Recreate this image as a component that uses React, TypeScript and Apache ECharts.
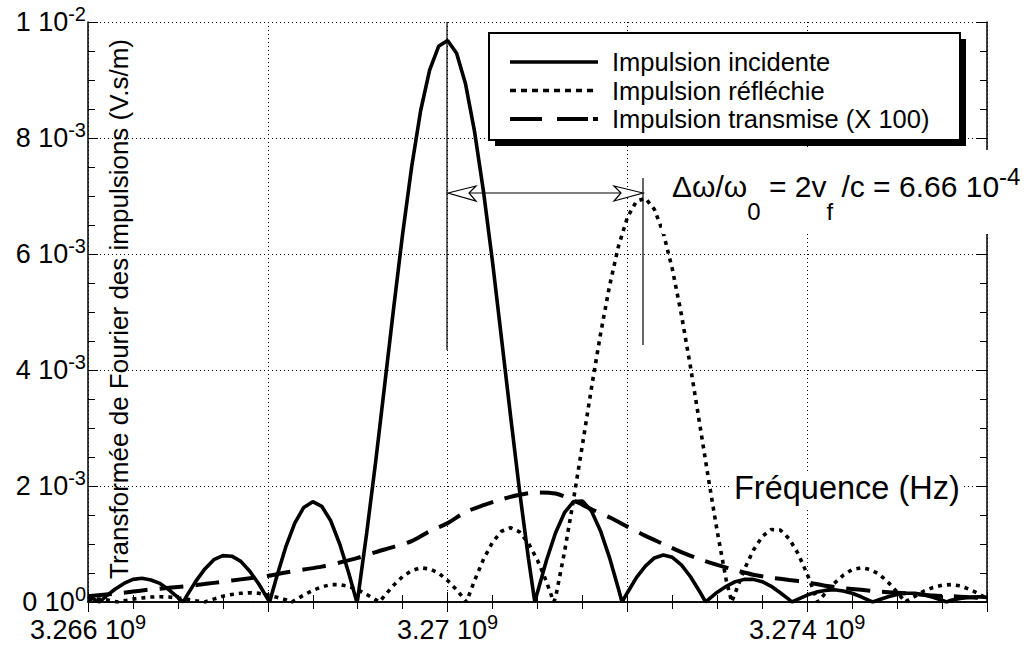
import React, { useEffect, useRef } from "react";
import * as echarts from "echarts";

// ---------------- Data (values in units of 1e-3 V.s/m) ----------------
const FREQ_START_HZ = 3.266e9;
const FREQ_END_HZ = 3.276e9;
const SAMPLE_STEP_HZ = 1e5; // sampling step of the incident / reflected curves
const DASHED_STEP_HZ = 2e5; // sampling step of the transmitted curve
const X_TICK_STEP_HZ = 2e6;

const incidentMilli = [
  0.1, 0.02, 0.1, 0.22, 0.32, 0.39, 0.41, 0.38, 0.32, 0.21, 0.08,
  0.11, 0.36, 0.57, 0.73, 0.8, 0.79, 0.7, 0.53, 0.31, 0.05,
  0.44, 0.95, 1.36, 1.63, 1.73, 1.65, 1.4, 1.0, 0.5, 0.05,
  1.19, 2.42, 3.74, 5.07, 6.35, 7.5, 8.47, 9.17, 9.58, 9.68,
  9.46, 8.93, 8.11, 7.07, 5.86, 4.54, 3.21, 1.92, 0.74, 0.17,
  0.72, 1.19, 1.54, 1.73, 1.74, 1.57, 1.23, 0.77, 0.23, 0.16,
  0.42, 0.62, 0.76, 0.81, 0.77, 0.64, 0.44, 0.19, 0.04, 0.17,
  0.27, 0.35, 0.39, 0.39, 0.35, 0.27, 0.16, 0.04, 0.05, 0.12,
  0.17, 0.2, 0.21, 0.19, 0.15, 0.09, 0.02, 0.04, 0.09, 0.13,
  0.15, 0.15, 0.12, 0.08, 0.03, 0.03, 0.06, 0.08, 0.09, 0.08,
];
const incidentZerosHz = [
  3.26613e9, 3.26706e9, 3.26802e9, 3.26899e9, 3.27097e9,
  3.27194e9, 3.27287e9, 3.27383e9, 3.27473e9, 3.27555e9,
];

const reflectedMilli = [
  0.04, 0.05, 0.04, 0.01, 0.02, 0.05, 0.07, 0.085, 0.09, 0.085, 0.07,
  0.05, 0.02, 0.0, 0.05, 0.1, 0.13, 0.15, 0.16, 0.15, 0.12,
  0.08, 0.04, 0.03, 0.12, 0.2, 0.26, 0.3, 0.3, 0.27, 0.21,
  0.13, 0.04, 0.11, 0.29, 0.44, 0.54, 0.59, 0.57, 0.5, 0.37,
  0.21, 0.02, 0.37, 0.74, 1.03, 1.22, 1.28, 1.21, 1.01, 0.72,
  0.35, 0.07, 0.86, 1.76, 2.71, 3.69, 4.61, 5.44, 6.13, 6.63,
  6.91, 6.96, 6.77, 6.36, 5.74, 4.96, 4.07, 3.11, 2.14, 1.21,
  0.37, 0.16, 0.56, 0.89, 1.13, 1.25, 1.24, 1.09, 0.83, 0.48,
  0.08, 0.15, 0.32, 0.46, 0.56, 0.59, 0.56, 0.48, 0.34, 0.17,
  0.01, 0.1, 0.19, 0.25, 0.29, 0.3, 0.28, 0.22, 0.15, 0.06,
];
const reflectedZerosHz = [
  3.26633e9, 3.2673e9, 3.26827e9, 3.26924e9, 3.27021e9,
  3.27118e9, 3.27316e9, 3.27412e9, 3.27509e9,
];

const transmittedX100Milli = [
  0.1, 0.13, 0.16, 0.2, 0.23, 0.26, 0.29, 0.33, 0.37, 0.41,
  0.45, 0.51, 0.56, 0.61, 0.68, 0.76, 0.86, 0.95, 1.05, 1.22,
  1.36, 1.55, 1.67, 1.77, 1.85, 1.89, 1.87, 1.75, 1.6, 1.46,
  1.3, 1.14, 1.0, 0.86, 0.74, 0.64, 0.55, 0.47, 0.42, 0.38,
  0.34, 0.28, 0.24, 0.21, 0.18, 0.16, 0.14, 0.11, 0.1, 0.08, 0.07,
];

const X_TICK_LABELS = ["3.266", "", "3.27", "", "3.274", ""];
const X_TICK_EXP = "9";
const Y_TICK_MANT = ["0", "2", "4", "6", "8", "1"];
const Y_TICK_EXP = ["0", "-3", "-3", "-3", "-3", "-2"];
const Y_MAX = 0.01;
const Y_STEP = 0.002;

const LEGEND_NAMES = [
  "Impulsion incidente",
  "Impulsion réfléchie",
  "Impulsion transmise (X 100)",
];
const Y_TITLE = "Transformée de Fourier des impulsions (V.s/m)";
const X_TITLE = "Fréquence (Hz)";

const FONT = '"Liberation Sans", Arial, Helvetica, sans-serif';

function buildPoints(vals: number[], step: number, zeros: number[]) {
  const pts: number[][] = vals.map((v, i) => [FREQ_START_HZ + i * step, v * 1e-3]);
  zeros.forEach((z) => pts.push([z, 0]));
  pts.sort((a, b) => a[0] - b[0]);
  return pts;
}

const tickRich = {
  m: { fontSize: 27, lineHeight: 36, fontFamily: FONT, color: "#000" },
  s: { fontSize: 20, lineHeight: 20, fontFamily: FONT, color: "#000", verticalAlign: "top" },
};

export default function App() {
  const ref = useRef<HTMLDivElement>(null);

  useEffect(() => {
    if (!ref.current) return;
    const chart = echarts.init(ref.current, null, { renderer: "svg" });

    const axisLine = { show: true, lineStyle: { color: "#000", width: 1.5 } };
    const axisTick = { show: true, inside: true, length: 10, lineStyle: { color: "#000", width: 1 } };
    const minorTick = { show: true, splitNumber: 4, length: 7, lineStyle: { color: "#000", width: 1 } };
    const gridLine = { show: true, lineStyle: { color: "#000", width: 1, type: [1, 3] } };

    const txt = (extra: any) => ({ fill: "#000", fontFamily: FONT, ...extra });

    const option: any = {
      animation: false,
      backgroundColor: "#fff",
      grid: { left: 88, right: 41, top: 22, bottom: 45, containLabel: false },
      xAxis: [
        {
          type: "value",
          position: "bottom",
          min: FREQ_START_HZ,
          max: FREQ_END_HZ,
          interval: X_TICK_STEP_HZ,
          axisLine,
          axisTick,
          minorTick,
          splitLine: gridLine,
          axisLabel: {
            margin: 10,
            formatter: (v: number) => {
              const idx = Math.round((v - FREQ_START_HZ) / X_TICK_STEP_HZ);
              const m = X_TICK_LABELS[idx];
              return m ? `{m|${m} 10}{s|${X_TICK_EXP}}` : "";
            },
            rich: tickRich,
          },
        },
        {
          type: "value",
          position: "top",
          min: FREQ_START_HZ,
          max: FREQ_END_HZ,
          interval: X_TICK_STEP_HZ,
          axisLine,
          axisTick,
          minorTick,
          splitLine: { show: false },
          axisLabel: { show: false },
        },
      ],
      yAxis: [
        {
          type: "value",
          position: "left",
          min: 0,
          max: Y_MAX,
          interval: Y_STEP,
          axisLine,
          axisTick,
          minorTick,
          splitLine: gridLine,
          axisLabel: {
            margin: 2,
            formatter: (v: number) => {
              const idx = Math.round(v / Y_STEP);
              return `{m|${Y_TICK_MANT[idx]} 10}{s|${Y_TICK_EXP[idx]}}`;
            },
            rich: tickRich,
          },
        },
        {
          type: "value",
          position: "right",
          min: 0,
          max: Y_MAX,
          interval: Y_STEP,
          axisLine,
          axisTick,
          minorTick,
          splitLine: { show: false },
          axisLabel: { show: false },
        },
      ],
      series: [
        {
          name: LEGEND_NAMES[0],
          type: "line",
          data: buildPoints(incidentMilli, SAMPLE_STEP_HZ, incidentZerosHz),
          symbol: "none",
          silent: true,
          lineStyle: { color: "#000", width: 3.6, type: "solid" },
          z: 5,
        },
        {
          name: LEGEND_NAMES[1],
          type: "line",
          data: buildPoints(reflectedMilli, SAMPLE_STEP_HZ, reflectedZerosHz),
          symbol: "none",
          silent: true,
          lineStyle: { color: "#000", width: 3.6, type: [4, 5] },
          z: 4,
        },
        {
          name: LEGEND_NAMES[2],
          type: "line",
          data: buildPoints(transmittedX100Milli, DASHED_STEP_HZ, []),
          symbol: "none",
          smooth: 0.3,
          silent: true,
          lineStyle: { color: "#000", width: 4, type: [24, 12] },
          z: 3,
        },
      ],
      graphic: [
        // y axis title (inside the plot)
        {
          type: "text",
          x: 119,
          y: 309,
          rotation: Math.PI / 2,
          z: 30,
          style: txt({
            text: Y_TITLE,
            fontSize: 26,
            align: "center",
            textAlign: "center",
            verticalAlign: "middle",
            textVerticalAlign: "middle",
          }),
        },
        // x axis title (inside the plot, white box)
        {
          type: "rect",
          z: 30,
          shape: { x: 731, y: 472, width: 232, height: 38 },
          style: { fill: "#fff" },
        },
        {
          type: "text",
          x: 734,
          y: 488,
          z: 31,
          style: txt({
            text: X_TITLE,
            fontSize: 32.5,
            align: "left",
            textAlign: "left",
            verticalAlign: "middle",
            textVerticalAlign: "middle",
          }),
        },
        // annotation: vertical markers and double arrow
        {
          type: "line",
          z: 6,
          shape: { x1: 447, y1: 22, x2: 447, y2: 350 },
          style: { stroke: "#000", lineWidth: 1.2 },
        },
        {
          type: "line",
          z: 6,
          shape: { x1: 643, y1: 178, x2: 643, y2: 345 },
          style: { stroke: "#000", lineWidth: 1.2 },
        },
        {
          type: "line",
          z: 6,
          shape: { x1: 460, y1: 193, x2: 630, y2: 193 },
          style: { stroke: "#000", lineWidth: 1.2 },
        },
        {
          type: "polygon",
          z: 7,
          shape: { points: [[448, 193], [476, 186], [469, 193], [476, 201]] },
          style: { fill: "#fff", stroke: "#000", lineWidth: 1.2 },
        },
        {
          type: "polygon",
          z: 7,
          shape: { points: [[643, 193], [614, 186], [621, 193], [614, 201]] },
          style: { fill: "#fff", stroke: "#000", lineWidth: 1.2 },
        },
        // annotation text with white box
        {
          type: "rect",
          z: 30,
          shape: { x: 662, y: 150, width: 366, height: 84 },
          style: { fill: "#fff" },
        },
        {
          type: "text",
          x: 672,
          y: 186,
          z: 31,
          style: txt({
            text: "{n|Δω/ω}{b|0}{n| = 2v}{b|f}{n| /c = 6.66 10}{p|-4}",
            align: "left",
            textAlign: "left",
            verticalAlign: "middle",
            textVerticalAlign: "middle",
            rich: {
              n: { fontSize: 30, lineHeight: 74, fontFamily: FONT, fill: "#000", color: "#000" },
              b: { fontSize: 24, lineHeight: 24, fontFamily: FONT, fill: "#000", color: "#000", verticalAlign: "bottom" },
              p: { fontSize: 24, lineHeight: 24, fontFamily: FONT, fill: "#000", color: "#000", verticalAlign: "top", padding: [15, 0, 0, 0] },
            },
          }),
        },
        // legend box with shadow
        {
          type: "rect",
          z: 40,
          shape: { x: 495, y: 39, width: 471, height: 107 },
          style: { fill: "#000" },
        },
        {
          type: "rect",
          z: 41,
          shape: { x: 489, y: 33, width: 471, height: 107 },
          style: { fill: "#fff", stroke: "#000", lineWidth: 2 },
        },
        {
          type: "line",
          z: 42,
          shape: { x1: 510, y1: 62, x2: 598, y2: 62 },
          style: { stroke: "#000", lineWidth: 3.6 },
        },
        {
          type: "line",
          z: 42,
          shape: { x1: 510, y1: 90.5, x2: 598, y2: 90.5 },
          style: { stroke: "#000", lineWidth: 3.4, lineDash: [6, 5] },
        },
        {
          type: "line",
          z: 42,
          shape: { x1: 510, y1: 119, x2: 542, y2: 119 },
          style: { stroke: "#000", lineWidth: 4 },
        },
        {
          type: "line",
          z: 42,
          shape: { x1: 557, y1: 119, x2: 588, y2: 119 },
          style: { stroke: "#000", lineWidth: 4 },
        },
        {
          type: "line",
          z: 42,
          shape: { x1: 593, y1: 119, x2: 598, y2: 119 },
          style: { stroke: "#000", lineWidth: 4 },
        },
        ...LEGEND_NAMES.map((name, i) => ({
          type: "text",
          x: 612,
          y: [62, 90.5, 119][i],
          z: 43,
          style: txt({
            text: name,
            fontSize: 25.5,
            lineHeight: 26,
            align: "left",
            textAlign: "left",
            verticalAlign: "middle",
            textVerticalAlign: "middle",
          }),
        })),
      ],
    };

    chart.setOption(option);
    return () => chart.dispose();
  }, []);

  return (
    <div
      ref={ref}
      style={{ position: "fixed", left: 0, top: 0, width: 1028, height: 647, background: "#fff" }}
    />
  );
}
